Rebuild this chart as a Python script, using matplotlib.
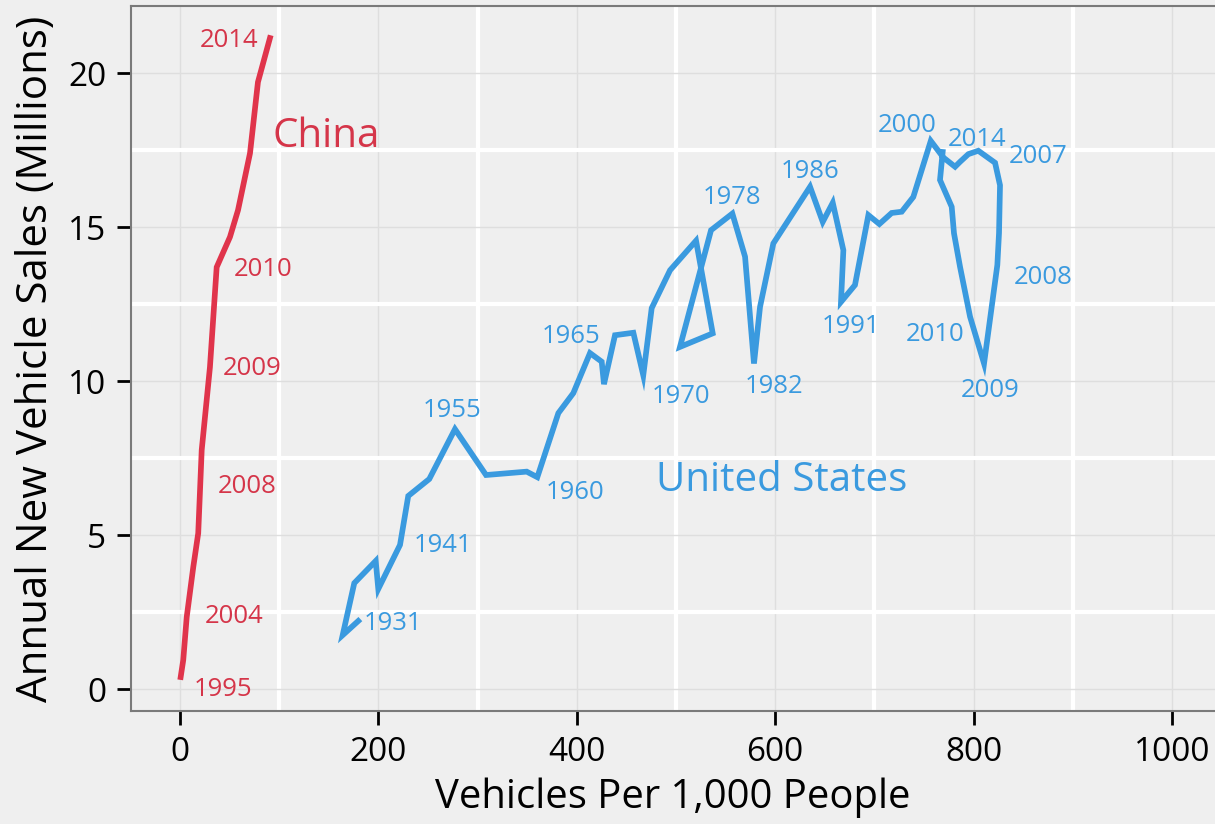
import matplotlib
matplotlib.use("Agg")
import matplotlib.pyplot as plt
from matplotlib.ticker import MultipleLocator

plt.rcParams['font.family'] = ['Open Sans', 'DejaVu Sans']

# China: vehicles per 1,000 people vs annual new vehicle sales (millions)
china_x = [0.7, 3.3, 6.8, 13.4, 18.4, 21.9, 30.2, 37.0, 50.4, 58.5, 70.6, 78.6, 90.7]
china_y = [0.39, 0.94, 2.34, 3.96, 5.06, 7.76, 10.45, 13.70, 14.68, 15.55, 17.40, 19.71, 21.14]

# United States
us_x = [179.7, 164.0, 175.7, 197.3, 199.9, 221.8, 230.1, 251.3, 277.2, 308.5,
        349.5, 360.2, 381.4, 396.5, 413.3, 425.1, 427.4, 438.5, 457.0, 467.0,
        475.5, 494.0, 520.2, 537.0, 504.0, 535.3, 556.8, 569.6, 578.6, 584.7,
        598.1, 635.1, 647.9, 658.0, 668.7, 666.3, 680.4, 693.9, 705.0, 717.4,
        727.5, 739.2, 756.8, 769.5, 781.3, 786.3, 794.7, 804.7, 821.6, 826.6,
        825.6, 823.9, 810.5, 796.4, 786.3, 780.2, 777.9, 766.1, 768.8]
us_y = [2.21, 1.75, 3.44, 4.16, 3.25, 4.68, 6.27, 6.82, 8.44, 6.95,
        7.06, 6.88, 8.96, 9.61, 10.91, 10.63, 9.90, 11.49, 11.57, 10.19,
        12.37, 13.60, 14.56, 11.55, 11.11, 14.90, 15.44, 14.04, 10.57, 12.41,
        14.47, 16.31, 15.17, 15.79, 14.25, 12.57, 13.12, 15.39, 15.10, 15.46,
        15.50, 15.98, 17.80, 17.26, 16.96, 17.12, 17.37, 17.48, 17.09, 16.36,
        14.81, 13.77, 10.57, 12.09, 13.71, 14.80, 15.66, 16.53, 17.44]

# year labels (text, x, y of baseline)
china_labels = ['2014', '2010', '2009', '2008', '2004', '1995']
china_lab_x = [49.9, 83.7, 72.3, 68.1, 54.5, 42.9]
china_lab_y = [20.84, 13.40, 10.20, 6.38, 2.15, -0.24]

us_labels = ['1931', '1941', '1955', '1960', '1965', '1970', '1978', '1982',
             '1986', '1991', '2000', '2014', '2007', '2008', '2010', '2009']
us_lab_x = [214.8, 265.2, 274.3, 397.8, 394.3, 505.2, 556.3, 599.0,
            635.3, 676.4, 732.8, 803.0, 864.9, 870.0, 760.8, 816.8]
us_lab_y = [1.93, 4.46, 8.84, 6.18, 11.24, 9.30, 15.76, 9.62,
            16.60, 11.57, 18.10, 17.65, 17.09, 13.16, 11.29, 9.47]

red = '#E0344B'
red_txt = '#D53549'
blue = '#3A9ADF'
bg = '#EFEFEF'

fig = plt.figure(figsize=(12.15, 8.24), dpi=100, facecolor=bg)
ax = fig.add_axes([0.1082, 0.1371, 0.8918, 0.8556])
ax.set_facecolor(bg)

ax.plot(china_x, china_y, color=red, lw=4.1, solid_joinstyle='miter', zorder=3)
ax.plot(us_x, us_y, color=blue, lw=4.1, solid_joinstyle='miter', zorder=3)

for t, x, y in zip(china_labels, china_lab_x, china_lab_y):
    ax.text(x, y, t, color=red_txt, fontsize=18.5, ha='center', va='baseline')
for t, x, y in zip(us_labels, us_lab_x, us_lab_y):
    ax.text(x, y, t, color=blue, fontsize=18.5, ha='center', va='baseline')

ax.text(147.2, 17.61, 'China', color=red_txt, fontsize=29, ha='center', va='baseline')
ax.text(606.0, 6.44, 'United States', color=blue, fontsize=29, ha='center', va='baseline')

ax.set_xlim(-48.9, 1043.3)
ax.set_ylim(-0.714, 22.18)
ax.xaxis.set_major_locator(MultipleLocator(200))
ax.xaxis.set_minor_locator(MultipleLocator(100))
ax.yaxis.set_major_locator(MultipleLocator(5))
ax.yaxis.set_minor_locator(MultipleLocator(2.5))

ax.grid(which='major', color='#DEDEDE', lw=1.0, zorder=0)
ax.grid(which='minor', color='white', lw=3.0, zorder=0)
ax.set_axisbelow(True)

ax.tick_params(which='major', length=10, width=2, color='black', labelsize=24,
               labelcolor='black', pad=8)
ax.tick_params(which='minor', length=0)

for side in ['left', 'bottom', 'top']:
    ax.spines[side].set_color('#7A7A7A')
    ax.spines[side].set_linewidth(1.5)
ax.spines['right'].set_visible(False)

ax.set_xlabel('Vehicles Per 1,000 People', fontsize=28.8, labelpad=6)
ax.set_ylabel('Annual New Vehicle Sales (Millions)', fontsize=30.3, labelpad=8)

fig.savefig('out.png', dpi=100, facecolor=bg)
